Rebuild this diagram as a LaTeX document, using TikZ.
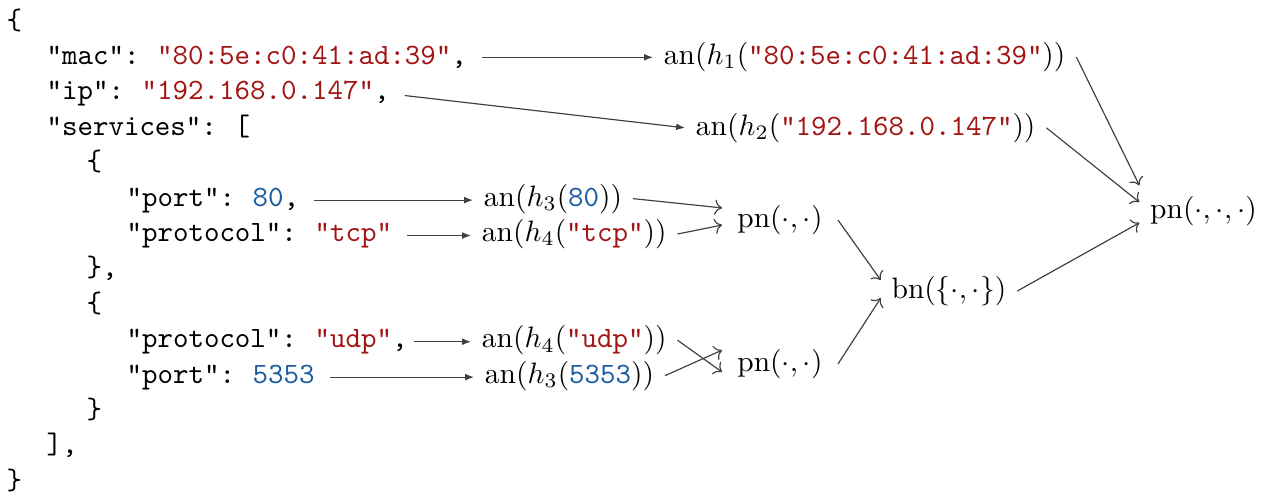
\documentclass[tikz,border=0pt]{standalone}
\usepackage{fontspec}
\usetikzlibrary{arrows.meta}

\definecolor{jred}{RGB}{163,21,21}
\definecolor{jblue}{RGB}{28,92,160}
\definecolor{wire}{RGB}{64,64,64}

\newcommand\jstr[1]{\textcolor{jred}{"#1"}}
\newcommand\jnum[1]{\textcolor{jblue}{#1}}
\newcommand\tstr[1]{\mbox{\ttfamily\jstr{#1}}}
\newcommand\tnum[1]{\mbox{\ttfamily\jnum{#1}}}
\newcommand\jsp{\hspace{0.6em}}

\tikzset{
  jline/.style={anchor=base west, inner xsep=0pt, inner ysep=2pt, font=\ttfamily\frenchspacing},
  term/.style={anchor=base west, inner sep=3.5pt},
  agg/.style={inner sep=3.5pt},
  feed/.style={draw=wire, line width=0.4pt, -{Latex[length=3pt,width=2.3pt]}, shorten <=5pt},
  comb/.style={draw=wire, line width=0.4pt, ->},
}

\begin{document}
\begin{tikzpicture}[x=0.339pt, y=-0.339pt]
\useasboundingbox (0,0) rectangle (1268,497);

% JSON document, one node per line
\node[jline] (j0)  at (6,29)     {\{};
\node[jline] (j1)  at (46,64.4)  {"mac":\jsp\jstr{80:5e:c0:41:ad:39},};
\node[jline] (j2)  at (46,99.8)  {"ip":\jsp\jstr{192.168.0.147},};
\node[jline] (j3)  at (46,135.2) {"services":\jsp[};
\node[jline] (j4)  at (86,170.6) {\{};
\node[jline] (j5)  at (126,206)  {"port":\jsp\jnum{80},};
\node[jline] (j6)  at (126,241.4){"protocol":\jsp\jstr{tcp}};
\node[jline] (j7)  at (86,276.8) {\},};
\node[jline] (j8)  at (86,312.2) {\{};
\node[jline] (j9)  at (126,347.6){"protocol":\jsp\jstr{udp},};
\node[jline] (j10) at (126,383)  {"port":\jsp\jnum{5353}};
\node[jline] (j11) at (86,418.4) {\}};
\node[jline] (j12) at (46,453.8) {],};
\node[jline] (j13) at (6,489.2)  {\}};

% attribute nodes
\node[term] (an1)  at (653,64.4)  {$\mathrm{an}(h_1(\tstr{80:5e:c0:41:ad:39}))$};
\node[term] (an2)  at (685,135.2) {$\mathrm{an}(h_2(\tstr{192.168.0.147}))$};
\node[term] (an3)  at (473,206)   {$\mathrm{an}(h_3(\tnum{80}))$};
\node[term] (an4)  at (471,241.4) {$\mathrm{an}(h_4(\tstr{tcp}))$};
\node[term] (an4b) at (471,347.6) {$\mathrm{an}(h_4(\tstr{udp}))$};
\node[term] (an3b) at (474,383)   {$\mathrm{an}(h_3(\tnum{5353}))$};

% product, bag and root nodes
\node[agg, inner xsep=5pt] (pna) at (780,220) {$\mathrm{pn}(\cdot,\cdot)$};
\node[agg, inner xsep=5pt] (pnb) at (780,364) {$\mathrm{pn}(\cdot,\cdot)$};
\node[agg] (bn)  at (949,291)    {$\mathrm{bn}(\{\cdot,\cdot\})$};
\node[agg] (pn3) at (1203.5,211) {$\mathrm{pn}(\cdot,\cdot,\cdot)$};

% leaves to attribute nodes
\draw[feed] (j1.east) -- (j1.east -| an1.west);
\draw[feed] (j2.east) -- (an2.west);
\draw[feed] (j5.east) -- (j5.east -| an3.west);
\draw[feed] (j6.east) -- (j6.east -| an4.west);
\draw[feed, shorten <=2pt] (j9.east) -- (j9.east -| an4b.west);
\draw[feed] (j10.east) -- (j10.east -| an3b.west);

% attribute nodes to products
\draw[comb] (an3.east)  -- ([yshift=4.1pt]pna.west);
\draw[comb] (an4.east)  -- ([yshift=-1.7pt]pna.west);
\draw[comb] (an4b.east) -- ([yshift=-2.7pt]pnb.west);
\draw[comb] (an3b.east) -- ([yshift=4.7pt]pnb.west);

% products to bag
\draw[comb] (pna.east) -- ([yshift=3.7pt]bn.west);
\draw[comb] (pnb.east) -- ([yshift=-2.4pt]bn.west);

% into the root
\draw[comb] (an1.east) -- (pn3.north west);
\draw[comb] (an2.east) -- ([yshift=3pt]pn3.west);
\draw[comb] (bn.east)  -- ([yshift=-4pt]pn3.west);
\end{tikzpicture}
\end{document}
